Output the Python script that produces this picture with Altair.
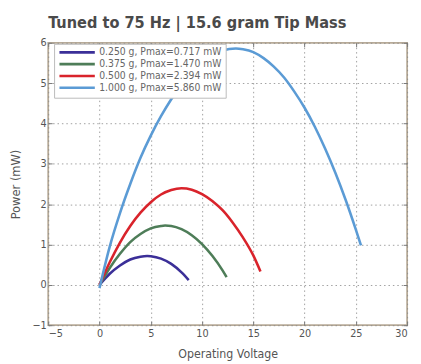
import altair as alt
import pandas as pd

# ---- data ----
labels = [
    "0.250 g, Pmax=0.717 mW",
    "0.375 g, Pmax=1.470 mW",
    "0.500 g, Pmax=2.394 mW",
    "1.000 g, Pmax=5.860 mW",
]
colors = ["#3b2f98", "#4e7d58", "#d9232b", "#5b9bd5"]

v_250 = [0, 1, 2, 3, 4, 4.65, 5, 6, 7, 8, 8.7]
p_250 = [0, 0.275, 0.48, 0.63, 0.70, 0.717, 0.71, 0.65, 0.52, 0.31, 0.12]

v_375 = [0, 1, 2, 3, 4, 5, 6, 6.4, 7, 8, 9, 10, 11, 12, 12.4]
p_375 = [0, 0.42, 0.77, 1.06, 1.26, 1.40, 1.46, 1.47, 1.46, 1.38, 1.23, 1.01, 0.72, 0.36, 0.19]

v_500 = [0, 1, 2, 3, 4, 5, 6, 7, 8, 9, 10, 11, 12, 13, 14, 15, 15.7]
p_500 = [0, 0.56, 1.05, 1.46, 1.79, 2.05, 2.24, 2.35, 2.394, 2.36, 2.25, 2.08, 1.85, 1.54, 1.17, 0.73, 0.33]

v_1000 = [0, 1, 2, 3, 4, 5, 6, 7, 8, 9, 10, 11, 12, 13.3, 14, 15, 16, 17, 18, 19,
          20, 21, 22, 23, 24, 25, 25.5]
p_1000 = [-0.08, 0.95, 1.78, 2.5, 3.15, 3.70, 4.18, 4.6, 4.97, 5.28, 5.53, 5.70, 5.81, 5.86,
          5.84, 5.77, 5.62, 5.41, 5.14, 4.79, 4.39, 3.92, 3.38, 2.78, 2.11, 1.37, 0.98]

x_ticks = [-5, 0, 5, 10, 15, 20, 25, 30]
y_ticks = [-1, 0, 1, 2, 3, 4, 5, 6]

rows = []
for lab, vs, ps in zip(labels, [v_250, v_375, v_500, v_1000], [p_250, p_375, p_500, p_1000]):
    for i, (v, p) in enumerate(zip(vs, ps)):
        rows.append({"series": lab, "V": v, "P": p, "order": i})
df = pd.DataFrame(rows)

FONT = "DejaVu Sans Condensed, Liberation Sans, sans-serif"
FRAME = "#b8ab98"
TXT = "#555555"
TICK = "#777777"

xscale = alt.Scale(domain=[-5, 30], nice=False, zero=False)
yscale = alt.Scale(domain=[-1, 6], nice=False, zero=False)

lines = alt.Chart(df).mark_line(strokeWidth=2.6, interpolate="monotone").encode(
    x=alt.X("V:Q", scale=xscale,
            axis=alt.Axis(values=x_ticks, title="Operating Voltage", grid=True,
                          gridDash=[1.5, 3], gridColor="#888888", gridOpacity=0.8,
                          domain=False, ticks=True, tickSize=4, tickColor=TICK,
                          offset=-4, labelPadding=2,
                          labelFont=FONT, labelFontSize=11, labelColor=TXT,
                          titleFont=FONT, titleFontSize=12.5, titleFontWeight="normal",
                          titleColor=TXT, titlePadding=10)),
    y=alt.Y("P:Q", scale=yscale,
            axis=alt.Axis(values=y_ticks, title="Power (mW)", grid=True,
                          gridDash=[1.5, 3], gridColor="#888888", gridOpacity=0.8,
                          domain=False, ticks=True, tickSize=4, tickColor=TICK,
                          offset=-4, labelPadding=2,
                          labelFont=FONT, labelFontSize=11, labelColor=TXT,
                          titleFont=FONT, titleFontSize=13, titleFontWeight="normal",
                          titleColor=TXT, titlePadding=10)),
    color=alt.Color("series:N", scale=alt.Scale(domain=labels, range=colors),
                    sort=labels,
                    legend=alt.Legend(title=None, orient="none", legendX=6, legendY=1,
                                      symbolType="stroke", symbolSize=1300,
                                      symbolStrokeWidth=2.6, labelFont=FONT,
                                      labelFontSize=10.5, labelColor="#666666",
                                      fillColor="white", strokeColor="#bbbbbb",
                                      padding=4, rowPadding=0, labelOffset=3,
                                      clipHeight=9.5, labelLimit=300)),
    order="order:Q",
)

frame_ticks = alt.Chart(df).mark_line(opacity=0).encode(
    x=alt.X("V:Q", scale=xscale,
            axis=alt.Axis(values=x_ticks, orient="top", title=None, labels=False,
                          grid=False, domain=False, ticks=True, tickSize=4,
                          tickColor=TICK, offset=-4)),
    y=alt.Y("P:Q", scale=yscale,
            axis=alt.Axis(values=y_ticks, orient="right", title=None, labels=False,
                          grid=False, domain=False, ticks=True, tickSize=4,
                          tickColor=TICK, offset=-4)),
    detail="series:N",
)

chart = alt.layer(lines, frame_ticks).resolve_axis(
    x="independent", y="independent"
).properties(
    width=366,
    height=288,
    padding={"left": 41, "top": 32, "right": 6, "bottom": 34},
    autosize=alt.AutoSizeParams(type="none"),
    title=alt.TitleParams("Tuned to 75 Hz | 15.6 gram Tip Mass", anchor="start",
                          frame="group", font=FONT, fontSize=16.5, fontWeight="bold",
                          color="#4a4a4a", offset=6),
).configure_view(stroke=FRAME, strokeWidth=1.8)

chart.save("out.html", embed_options={"renderer": "svg", "actions": False})
